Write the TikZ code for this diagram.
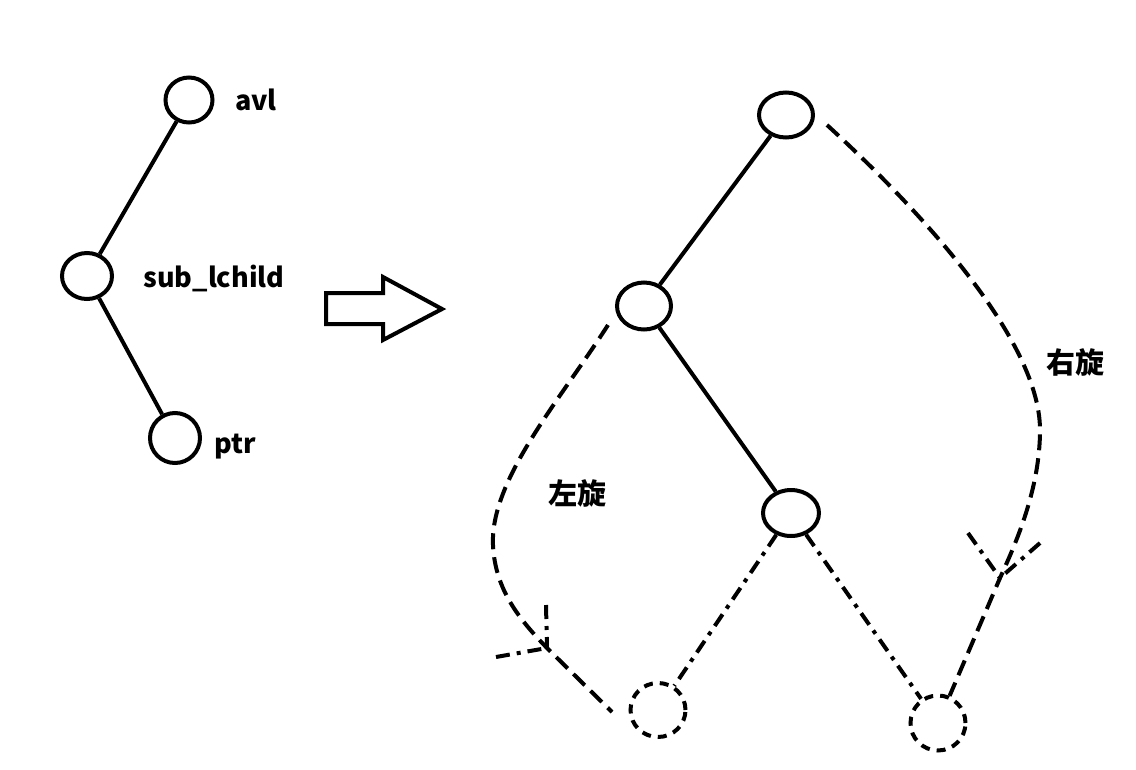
\documentclass[tikz,border=0pt]{standalone}
\usepackage{fontspec}
\newfontfamily\cjk{Noto Sans CJK SC}
\usetikzlibrary{shapes.geometric}
\tikzset{
  nd/.style={draw, ellipse, line width=4pt, inner sep=0pt},
  dnd/.style={draw, ellipse, line width=4pt, inner sep=0pt, dash pattern=on 9pt off 7pt},
  solid edge/.style={line width=4pt},
  rot/.style={line width=4pt, dash pattern=on 16pt off 8pt},
  dd/.style={line width=4pt, dash pattern=on 14pt off 7pt on 4pt off 7pt},
  lab/.style={font=\cjk\bfseries\fontsize{27}{27}\selectfont, inner sep=0pt},
  clab/.style={font=\cjk\bfseries\fontsize{29}{29}\selectfont, inner sep=0pt},
}
\begin{document}
\begin{tikzpicture}[x=1pt,y=-1pt]
\useasboundingbox (0,0) rectangle (1136,769);
% left tree
\node[nd, minimum width=47pt, minimum height=45pt] (avl) at (189,100) {};
\node[nd, minimum width=50pt, minimum height=46pt] (sub) at (87,276) {};
\node[nd, minimum width=50pt, minimum height=50pt] (ptr) at (175,438) {};
\draw[solid edge] (avl) -- (sub);
\draw[solid edge] (sub) -- (ptr);
\node[lab] (tavl) at (256,100) {avl};
\node[lab] (tsub) at (214,278) {sub\_lchild};
\node[lab] (tptr) at (235,447) {ptr};
% block arrow
\draw[line width=4pt, line join=miter] (326,293) -- (383,293) -- (383,277) -- (442,309) -- (383,340) -- (383,324) -- (326,324) -- cycle;
% right tree
\node[nd, minimum width=54pt, minimum height=45pt] (root) at (786,115) {};
\node[nd, minimum width=54pt, minimum height=47pt] (mid) at (644,306) {};
\node[nd, minimum width=56pt, minimum height=46pt] (bot) at (791,513) {};
\node[dnd, minimum width=55pt, minimum height=54pt] (dl) at (658,710) {};
\node[dnd, minimum width=55pt, minimum height=55pt] (dr) at (938,723) {};
\draw[solid edge] (root) -- (mid);
\draw[solid edge] (mid) -- (bot);
\draw[dd] (bot) -- (dl);
\draw[dd] (bot) -- (dr);
% left rotation
\coordinate (ls) at (608,325);
\coordinate (lt) at (547,648);
\coordinate (le) at (612,712);
\coordinate (la1) at (546,605);
\coordinate (la2) at (496,657);
\draw[rot] (ls) .. controls (560,400) and (490,480) .. (493,545) .. controls (495,590) and (520,620) .. (lt) -- (le);
\draw[dd] (la1) -- (lt);
\draw[dd] (la2) -- (lt);
\node[clab] (tl) at (577,493) {左旋};
% right rotation
\coordinate (rs) at (827,125);
\coordinate (rt) at (1000,578);
\coordinate (ra1) at (968,533);
\coordinate (ra2) at (1040,543);
\draw[rot] (rs) .. controls (920,210) and (1040,340) .. (1040,430) .. controls (1040,490) and (1015,545) .. (rt) -- (dr);
\draw[dd] (ra1) -- (rt);
\draw[dd] (ra2) -- (rt);
\node[clab] (tr) at (1075,362) {右旋};
\end{tikzpicture}
\end{document}
